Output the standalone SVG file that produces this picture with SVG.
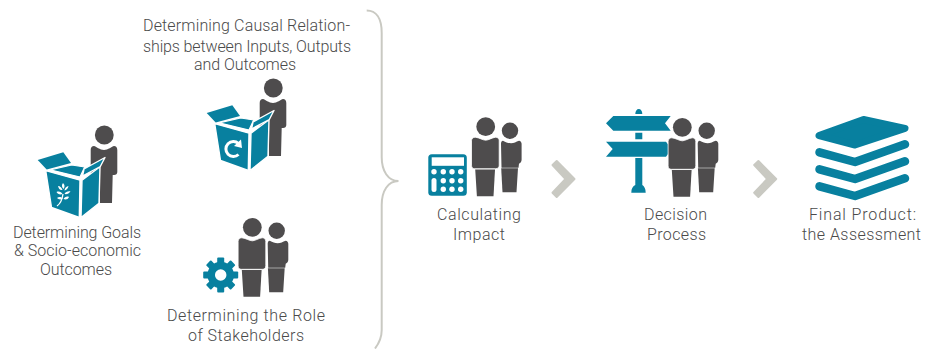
<svg xmlns="http://www.w3.org/2000/svg" xmlns:xlink="http://www.w3.org/1999/xlink" width="925" height="349" viewBox="0 0 925 349">
<style>
text{font-family:"Roboto","Liberation Sans",sans-serif;font-weight:300;font-size:16px;fill:#4a4a4a;text-anchor:middle}
.d{fill:#4e4c4d}
.t{fill:#08809f}
.w{fill:#fff}
.ln{fill:none;stroke:#c9c9c2}
.chev{fill:#c9c9c2;stroke:#c9c9c2;stroke-width:2;stroke-linejoin:round}
.strip{fill:none;stroke:#08809f;stroke-width:8.5;stroke-linecap:round;stroke-linejoin:round}
.halo{stroke:#fff;stroke-width:.8}
</style>
<defs>
<g id="big">
<circle class="d" cx="0" cy="0" r="9.4"/>
<path class="d halo" d="M-10.500 10.500C-6 11-3 13.500 0 13.500S6 11 10 10.500C12 10.500 13.500 12 13.500 14V38.500C13.500 41 12 42 10 42H-11C-13 42-14.200 41-14.200 38.500V14C-14.200 12-12.500 10.500-10.500 10.500Z"/>
<path class="d" d="M-10.500 42.800H9.300L7.800 69.500H-8.800Z"/>
</g>
<g id="small">
<circle class="d" cx="0" cy="0" r="8.2"/>
<path class="d" d="M-7 10C-4 11.500-2 12.500 1 12.500S6 11 9 10C10.500 10 11.600 11.500 11.600 13V29C11.600 31 10.500 32 9 33L8.500 37H-8.500L-9 13C-9 11.500-8.500 10-7 10Z"/>
<path class="d" d="M-8.800 37.500H8L6.500 61.500H-7.500Z"/>
</g>
<g id="box">
<circle class="d" cx="104.300" cy="135" r="9.400"/>
<path class="d" d="M94 146C96 146.500 100 150 104 150S112 146.500 114 146C116 146 117.300 147.500 117.300 150V172C117.300 174 116 175 114 175H112.700L112 203H100V175H94C92 175 90.700 174 90.700 172V150C90.700 147.500 92 146 94 146Z"/>
<path class="t" d="M37.700 160L63.300 152.300L71 163L46.700 169.500Z"/>
<path class="t" stroke="#fff" stroke-width="1.200" d="M50 169.800L71.700 165L84.700 167L80 177Z"/>
<path class="t" stroke="#fff" stroke-width="1.400" stroke-linejoin="round" d="M45.700 170.700L80 180.200L79.300 217.500L51.500 207.500Z"/>
<path class="t" stroke="#fff" stroke-width="1.400" stroke-linejoin="round" d="M82 180.200L100 166.700L99 203.300L81 217.500Z"/>
<path class="t" stroke="#fff" stroke-width="1.400" stroke-linejoin="round" d="M82.500 176L84 169L105 157.500L100.300 166.500Z"/>
</g>
</defs>
<g id="connectors">
<path class="ln" stroke-width="2" d="M366.700 10.500C376 10.500 381.700 18 381.700 33V157C381.700 171 388 181 398.500 181C388 181 381.700 191 381.700 205V330C381.700 338 378.500 344 375 348.500"/>
<polygon class="chev" points="552.500,165 556.700,161 574.500,179 556.700,197 552.500,192.700 565.500,179"/>
<polygon class="chev" points="754.200,165 758.400,161 776.200,179 758.400,197 754.200,192.700 767.200,179"/>
</g>
<g id="goals">
<use xlink:href="#box" href="#box"/>
<path fill="none" stroke="#fff" stroke-width="1.300" d="M57 206C60 204 62 201 63 194"/>
<path class="w" d="M63 183C65 185 65 187 63.500 189C61.500 187 61.500 185 63 183ZM58 186C60 186 62 188 62.500 190C60 190.500 58.500 188.500 58 186ZM68.500 186C68 188.500 66.500 190 64.500 190.500C64.500 188 66.500 186.500 68.500 186ZM56.500 192C59 191 61.500 192 62.500 194C60 195 57.500 194 56.500 192ZM70.500 191.500C69 193.500 67 194.500 64.500 194C65.500 192 68 191 70.500 191.500ZM57 198C59 196.500 61.500 197 62.800 198.500C60.500 200 58.500 199.500 57 198ZM69 197C68 199.500 65.500 200 63.500 199C64.500 197 67 196 69 197Z"/>
<text x="77" y="238" textLength="128" lengthAdjust="spacing">Determining Goals</text>
<text x="77.500" y="256" textLength="127" lengthAdjust="spacing">&amp; Socio-economic</text>
<text x="76" y="275" textLength="72" lengthAdjust="spacing">Outcomes</text>
</g>
<g id="causal">
<use xlink:href="#box" href="#box" transform="translate(169 -47)"/>
<path fill="none" stroke="#fff" stroke-width="3" d="M238.500 143.500A7.500 7.500 0 1 0 238.500 154.500"/>
<polygon class="w" points="234,146 241,139.500 242,148"/>
<text x="246.500" y="31" textLength="207" lengthAdjust="spacing">Determining Causal Relation-</text>
<text x="247" y="52" textLength="208" lengthAdjust="spacing">ships between Inputs, Outputs</text>
<text x="245" y="70" textLength="102" lengthAdjust="spacing">and Outcomes</text>
</g>
<g id="stakeholders">
<use xlink:href="#small" href="#small" transform="translate(276.700 230.700)"/>
<use xlink:href="#big" href="#big" transform="translate(252.300 227.300)"/>
<g class="t">
<circle cx="220.700" cy="275" r="9.500" fill="none" stroke="#08809f" stroke-width="7.500"/>
<rect x="217.200" y="257.500" width="7" height="7" rx="1"/>
<rect x="217.200" y="257.500" width="7" height="7" rx="1" transform="rotate(45 220.700 275)"/>
<rect x="217.200" y="257.500" width="7" height="7" rx="1" transform="rotate(90 220.700 275)"/>
<rect x="217.200" y="257.500" width="7" height="7" rx="1" transform="rotate(135 220.700 275)"/>
<rect x="217.200" y="257.500" width="7" height="7" rx="1" transform="rotate(180 220.700 275)"/>
<rect x="217.200" y="257.500" width="7" height="7" rx="1" transform="rotate(225 220.700 275)"/>
<rect x="217.200" y="257.500" width="7" height="7" rx="1" transform="rotate(270 220.700 275)"/>
<rect x="217.200" y="257.500" width="7" height="7" rx="1" transform="rotate(315 220.700 275)"/>
</g>
<text x="246" y="321" textLength="158" lengthAdjust="spacing">Determining the Role</text>
<text x="246" y="341" textLength="116" lengthAdjust="spacing">of Stakeholders</text>
</g>
<g id="calculating">
<use xlink:href="#small" href="#small" transform="translate(510 130.700)"/>
<use xlink:href="#big" href="#big" transform="translate(485.700 126.700)"/>
<rect class="t" x="428.300" y="154.300" width="38.500" height="41.500" rx="3.500"/>
<rect class="w" x="431.700" y="157.300" width="32.300" height="8.500"/>
<g class="w">
<circle cx="434" cy="171.700" r="2.700"/><circle cx="443.300" cy="171.700" r="2.700"/><circle cx="452" cy="171.700" r="2.700"/><circle cx="460.700" cy="171.700" r="2.700"/>
<rect x="431.500" y="178" width="5" height="14" rx="2.500"/><circle cx="443.300" cy="180.700" r="2.700"/><circle cx="452" cy="180.700" r="2.700"/><circle cx="460.700" cy="180.700" r="2.700"/>
<circle cx="443.300" cy="189.300" r="2.700"/><circle cx="452" cy="189.300" r="2.700"/><circle cx="460.700" cy="189.300" r="2.700"/>
</g>
<text x="479" y="220" textLength="84" lengthAdjust="spacing">Calculating</text>
<text x="479" y="240" textLength="52" lengthAdjust="spacing">Impact</text>
</g>
<g id="decision">
<path class="t" d="M635.300 114C635.300 111 636.800 109 638.800 109S642.300 111 642.300 114ZM635.300 132.700H642.300V139.300H635.300ZM635.300 158H642.300V185C644 186 645.700 188.500 645.700 192.700H631.300C631.300 188.500 633 186 635.300 185Z"/>
<polygon class="t" points="606,123.300 613.300,116 670.700,116 665,123.300 670.700,130.700 613.300,130.700"/>
<polygon class="t" points="606,141.700 666,141.700 671.700,149 666,156.700 606,156.700 612.700,149"/>
<use xlink:href="#small" href="#small" transform="translate(706.700 130.700)"/>
<use xlink:href="#big" href="#big" transform="translate(682.300 127.300)"/>
<text x="675.500" y="220" textLength="63" lengthAdjust="spacing">Decision</text>
<text x="676.500" y="240" textLength="59" lengthAdjust="spacing">Process</text>
</g>
<g id="assessment">
<path class="t" stroke="#08809f" stroke-width="7" stroke-linejoin="round" d="M819 135.500L863.500 119.500L905 128.500L855 145Z"/>
<polyline class="strip" points="819.500,152.300 855,162 905,144.300"/>
<polyline class="strip" points="819.500,169.300 855,179 905,161.300"/>
<polyline class="strip" points="819.500,186.300 855,196 905,178.300"/>
<text x="862.500" y="220" textLength="107" lengthAdjust="spacing">Final Product:</text>
<text x="861.500" y="240" textLength="119" lengthAdjust="spacing">the Assessment</text>
</g>
</svg>
